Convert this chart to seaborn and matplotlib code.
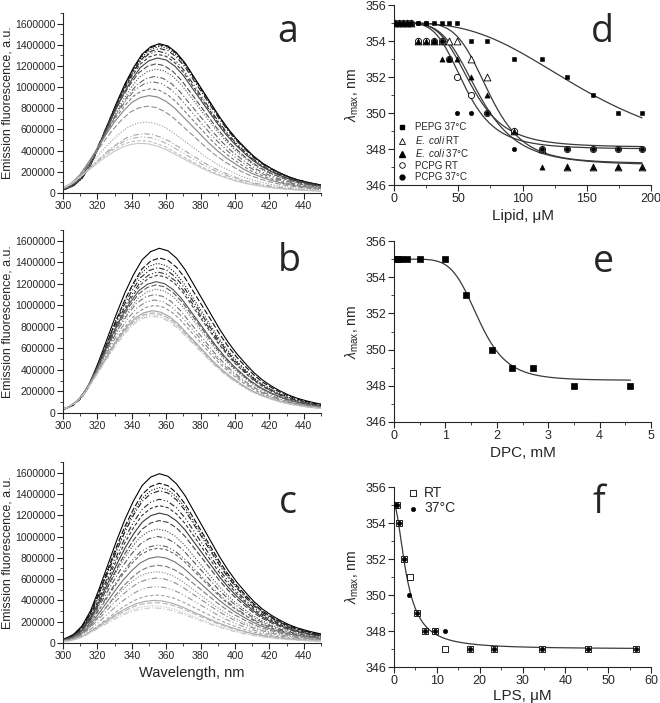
import numpy as np
import matplotlib
matplotlib.use("Agg")
import matplotlib.pyplot as plt
import seaborn as sns
from matplotlib.ticker import MultipleLocator, ScalarFormatter
from matplotlib.lines import Line2D

# Style
sns.set_style("ticks")
plt.rcParams["font.family"] = ["Liberation Sans", "DejaVu Sans"]
plt.rcParams["mathtext.fontset"] = "custom"
plt.rcParams["mathtext.rm"] = "Liberation Sans"
plt.rcParams["mathtext.it"] = "Liberation Sans:italic"
plt.rcParams["mathtext.bf"] = "Liberation Sans:bold"

# ---- emission spectra (a, b, c) ----
shape_offset = [-60, -55, -50, -45, -40, -35, -30, -25, -20, -15, -10, -5, 0,
                5, 10, 15, 20, 25, 30, 35, 40, 45, 50, 55, 60, 65, 70, 75, 80,
                85, 90, 95, 100, 105, 110]
shape_value = [0.01, 0.025, 0.05, 0.10, 0.19, 0.32, 0.46, 0.60, 0.73, 0.84,
               0.93, 0.98, 1.0, 0.985, 0.94, 0.87, 0.78, 0.69, 0.60, 0.51,
               0.43, 0.36, 0.30, 0.245, 0.20, 0.165, 0.135, 0.11, 0.09,
               0.075, 0.062, 0.052, 0.044, 0.037, 0.031]

peaks_a = [1410000, 1400000, 1385000, 1365000, 1340000, 1310000, 1275000,
           1220000, 1170000, 1100000, 1050000, 985000, 920000, 820000,
           670000, 560000, 530000, 495000, 470000]
lmax_a = [356, 356, 356, 356, 355, 355, 355, 354, 354, 353, 352, 351, 350,
          349, 348, 347, 346, 345, 345]

peaks_b = [1530000, 1440000, 1390000, 1350000, 1310000, 1280000, 1220000,
           1190000, 1150000, 1100000, 1050000, 1000000, 950000, 930000,
           915000, 900000]
lmax_b = [356, 356, 355, 355, 355, 355, 354, 354, 354, 353, 353, 353, 352,
          352, 352, 352]

peaks_c = [1590000, 1500000, 1460000, 1430000, 1350000, 1290000, 1220000,
           1150000, 1070000, 1000000, 920000, 890000, 810000, 730000, 670000,
           610000, 530000, 450000, 400000, 380000, 350000, 330000]
lmax_c = [356, 356, 356, 356, 356, 356, 356, 356, 355, 355, 355, 355, 355,
          355, 354, 354, 354, 354, 353, 353, 352, 352]

# ---- panel d: lambda max vs lipid ----
pepg_x = [1, 2.5, 4.5, 7, 9, 11, 13, 19, 25, 31, 37, 43, 49, 60, 72, 93, 115,
          135, 155, 174, 193]
pepg_y = [355] * 13 + [354, 354, 353, 353, 352, 351, 350, 350]

conc_d = [1, 4, 7, 10, 13, 19, 25, 31, 37, 43, 49, 60, 72, 93, 115, 135, 155,
          174, 193]
ecoli_rt_y = [355, 355, 355, 355, 355, 354, 354, 354, 354, 354, 354, 353, 352,
              349, 348, 347, 347, 347, 347]
ecoli_37_y = [355, 355, 355, 355, 355, 354, 354, 354, 353, 353, 353, 352, 351,
              349, 347, 347, 347, 347, 347]
pcpg_rt_y = [355, 355, 355, 355, 355, 354, 354, 354, 354, 353, 352, 351, 350,
             349, 348, 348, 348, 348, 348]
pcpg_37_y = [355, 355, 355, 355, 355, 355, 355, 354, 354, 353, 350, 350, 350,
             348, 348, 348, 348, 348, 348]

# fit parameters (top, bottom, x0, power)
fit_pepg = (355, 347, 155, 3.0)
fit_ecoli_rt = (355, 347.2, 74, 5.5)
fit_ecoli_37 = (355, 347.1, 66, 4.3)
fit_pcpg_rt = (355, 348.1, 60, 4.5)
fit_pcpg_37 = (355, 348.0, 55, 4.5)

# ---- panel e: DPC ----
dpc_x = [0.03, 0.08, 0.13, 0.25, 0.5, 0.99, 1.41, 1.91, 2.3, 2.7, 3.5, 4.6]
dpc_y = [355, 355, 355, 355, 355, 355, 353, 350, 349, 349, 348, 348]
fit_dpc = (355, 348.3, 1.65, 6.0)

# ---- panel f: LPS ----
lps_x_rt = [0.3, 0.8, 1.2, 2.3, 3.7, 5.4, 7.2, 9.5, 12, 17.7, 23.3, 34.5,
            45.4, 56.5]
lps_y_rt = [355, 355, 354, 352, 351, 349, 348, 348, 347, 347, 347, 347, 347,
            347]
lps_x_37 = [0.3, 0.8, 1.2, 2.3, 3.5, 5.4, 7.2, 9.5, 12, 17.7, 23.3, 34.5,
            45.4, 56.5]
lps_y_37 = [355, 355, 354, 352, 350, 349, 348, 348, 348, 347, 347, 347, 347,
            347]
fit_lps = (355, 347, 3.0, 1.85)

W, H = 660, 703
fig = plt.figure(figsize=(W / 100, H / 100), dpi=100)


def px_axes(left, top, right, bottom):
    return fig.add_axes([left / W, 1 - bottom / H, (right - left) / W,
                         (bottom - top) / H])


def style_axes(ax, size):
    sns.despine(ax=ax)
    for s in ["left", "bottom"]:
        ax.spines[s].set_linewidth(0.8)
    ax.tick_params(which="major", direction="out", length=4, width=0.8,
                   labelsize=size, pad=1.5)
    ax.tick_params(which="minor", direction="out", length=2, width=0.6)


def hill(x, p):
    top, bottom, x0, n = p
    x = np.asarray(x, dtype=float)
    return bottom + (top - bottom) / (1 + (x / x0) ** n)


styles = ["-", (0, (5, 2)), (0, (1, 1.5)), (0, (5, 2, 1, 2)),
          (0, (5, 2, 1, 2, 1, 2)), (0, (3, 2))]
wl = np.arange(300, 451, 1.0)

spectra = [(peaks_a, lmax_a, 13, 193, False),
           (peaks_b, lmax_b, 230, 413, False),
           (peaks_c, lmax_c, 462, 643, True)]

for peaks, lmax, top, bottom, show_x in spectra:
    ax = px_axes(63, top, 321, bottom)
    n = len(peaks)
    for i, (pk, lm) in enumerate(zip(peaks, lmax)):
        g = 0.78 * i / (n - 1)
        y = pk * np.interp(wl - lm, shape_offset, shape_value)
        sns.lineplot(x=wl, y=y, ax=ax, color=(g, g, g), lw=0.8,
                     linestyle=styles[i % len(styles)], estimator=None,
                     sort=False)
    ax.set_xlim(300, 450)
    ax.set_ylim(0, 1700000)
    ax.xaxis.set_minor_locator(MultipleLocator(10))
    ax.yaxis.set_major_locator(MultipleLocator(200000))
    ax.yaxis.set_minor_locator(MultipleLocator(100000))
    fmt = ScalarFormatter(useOffset=False)
    fmt.set_scientific(False)
    ax.yaxis.set_major_formatter(fmt)
    ax.set_xticks([300, 320, 340, 360, 380, 400, 420, 440])
    style_axes(ax, 7.5)
    ax.set_ylabel("Emission fluorescence, a.u.", fontsize=9, labelpad=1)
    ax.set_xlabel("Wavelength, nm" if show_x else "", fontsize=10.5,
                  labelpad=4)

lam_label = r"$\lambda_{\mathrm{max}}$, nm"
fit_color = "#3a3a3a"

# panel d
ax = px_axes(394, 5, 651, 185)
xs = np.linspace(0, 193, 300)
for p in [fit_pepg, fit_ecoli_rt, fit_ecoli_37, fit_pcpg_rt, fit_pcpg_37]:
    sns.lineplot(x=xs, y=hill(xs, p), ax=ax, color=fit_color, lw=0.9,
                 estimator=None, sort=False)
sns.scatterplot(x=pepg_x, y=pepg_y, ax=ax, marker="s", s=8, color="black",
                edgecolor="black", linewidth=0.4, zorder=3)
sns.scatterplot(x=conc_d, y=ecoli_rt_y, ax=ax, marker="^", s=24,
                facecolor="white", edgecolor="black", linewidth=0.6, zorder=3)
sns.scatterplot(x=conc_d, y=ecoli_37_y, ax=ax, marker="^", s=14,
                color="black", edgecolor="black", linewidth=0.4, zorder=4)
sns.scatterplot(x=conc_d, y=pcpg_rt_y, ax=ax, marker="o", s=20,
                facecolor="white", edgecolor="black", linewidth=0.6, zorder=3)
sns.scatterplot(x=conc_d, y=pcpg_37_y, ax=ax, marker="o", s=10,
                color="black", edgecolor="black", linewidth=0.4, zorder=4)
ax.set_xlim(0, 200)
ax.set_ylim(346, 356)
ax.xaxis.set_major_locator(MultipleLocator(50))
ax.xaxis.set_minor_locator(MultipleLocator(25))
ax.yaxis.set_major_locator(MultipleLocator(2))
ax.yaxis.set_minor_locator(MultipleLocator(1))
style_axes(ax, 9)
ax.set_xlabel("Lipid, μM", fontsize=11, labelpad=3)
ax.set_ylabel(lam_label, fontsize=10, labelpad=3)
handles = [
    Line2D([], [], ls="", marker="s", ms=3.5, mfc="black", mec="black"),
    Line2D([], [], ls="", marker="^", ms=4.5, mfc="white", mec="black",
           mew=0.6),
    Line2D([], [], ls="", marker="^", ms=4, mfc="black", mec="black"),
    Line2D([], [], ls="", marker="o", ms=4, mfc="white", mec="black",
           mew=0.6),
    Line2D([], [], ls="", marker="o", ms=3.5, mfc="black", mec="black"),
]
labels = ["PEPG 37°C", r"$\mathit{E.\ coli}$ RT", r"$\mathit{E.\ coli}$ 37°C",
          "PCPG RT", "PCPG 37°C"]
ax.legend(handles, labels, loc="lower left", bbox_to_anchor=(0.012, 0.015),
          frameon=False, fontsize=7, handlelength=1.0, handletextpad=0.8,
          labelspacing=0.15, borderaxespad=0, borderpad=0)

# panel e
ax = px_axes(394, 241, 651, 422)
xs = np.linspace(0, 4.6, 300)
sns.lineplot(x=xs, y=hill(xs, fit_dpc), ax=ax, color=fit_color, lw=0.9,
             estimator=None, sort=False)
sns.scatterplot(x=dpc_x, y=dpc_y, ax=ax, marker="s", s=18, color="black",
                edgecolor="black", linewidth=0.5, zorder=3)
ax.set_xlim(0, 5)
ax.set_ylim(346, 356)
ax.xaxis.set_major_locator(MultipleLocator(1))
ax.xaxis.set_minor_locator(MultipleLocator(0.5))
ax.yaxis.set_major_locator(MultipleLocator(2))
ax.yaxis.set_minor_locator(MultipleLocator(1))
style_axes(ax, 9)
ax.set_xlabel("DPC, mM", fontsize=11, labelpad=3)
ax.set_ylabel(lam_label, fontsize=10, labelpad=3)

# panel f
ax = px_axes(394, 487, 651, 667)
xs = np.linspace(0, 56.5, 400)
sns.lineplot(x=xs, y=hill(xs, fit_lps), ax=ax, color=fit_color, lw=0.9,
             estimator=None, sort=False)
sns.scatterplot(x=lps_x_rt, y=lps_y_rt, ax=ax, marker="s", s=14,
                facecolor="white", edgecolor="black", linewidth=0.6, zorder=3,
                label="RT")
sns.scatterplot(x=lps_x_37, y=lps_y_37, ax=ax, marker="o", s=10,
                color="black", edgecolor="black", linewidth=0.4, zorder=4,
                label="37°C")
ax.set_xlim(0, 60)
ax.set_ylim(346, 356)
ax.xaxis.set_major_locator(MultipleLocator(10))
ax.xaxis.set_minor_locator(MultipleLocator(5))
ax.yaxis.set_major_locator(MultipleLocator(2))
ax.yaxis.set_minor_locator(MultipleLocator(1))
style_axes(ax, 9)
ax.set_xlabel("LPS, μM", fontsize=11, labelpad=2)
ax.set_ylabel(lam_label, fontsize=10, labelpad=3)
ax.legend(loc="upper left", bbox_to_anchor=(0.047, 1.005), frameon=False,
          fontsize=10, handlelength=1.0, handletextpad=0.3,
          labelspacing=0.1, borderaxespad=0, borderpad=0)

# panel letters
letters = [("a", 288, 42), ("b", 289, 271), ("c", 288, 513),
           ("d", 602, 42), ("e", 603, 272), ("f", 599, 513)]
for t, x, y in letters:
    fig.text(x / W, 1 - y / H, t, fontsize=27, ha="center", va="baseline",
             family=["Open Sans", "DejaVu Sans"])

fig.savefig("out.png", dpi=100)
